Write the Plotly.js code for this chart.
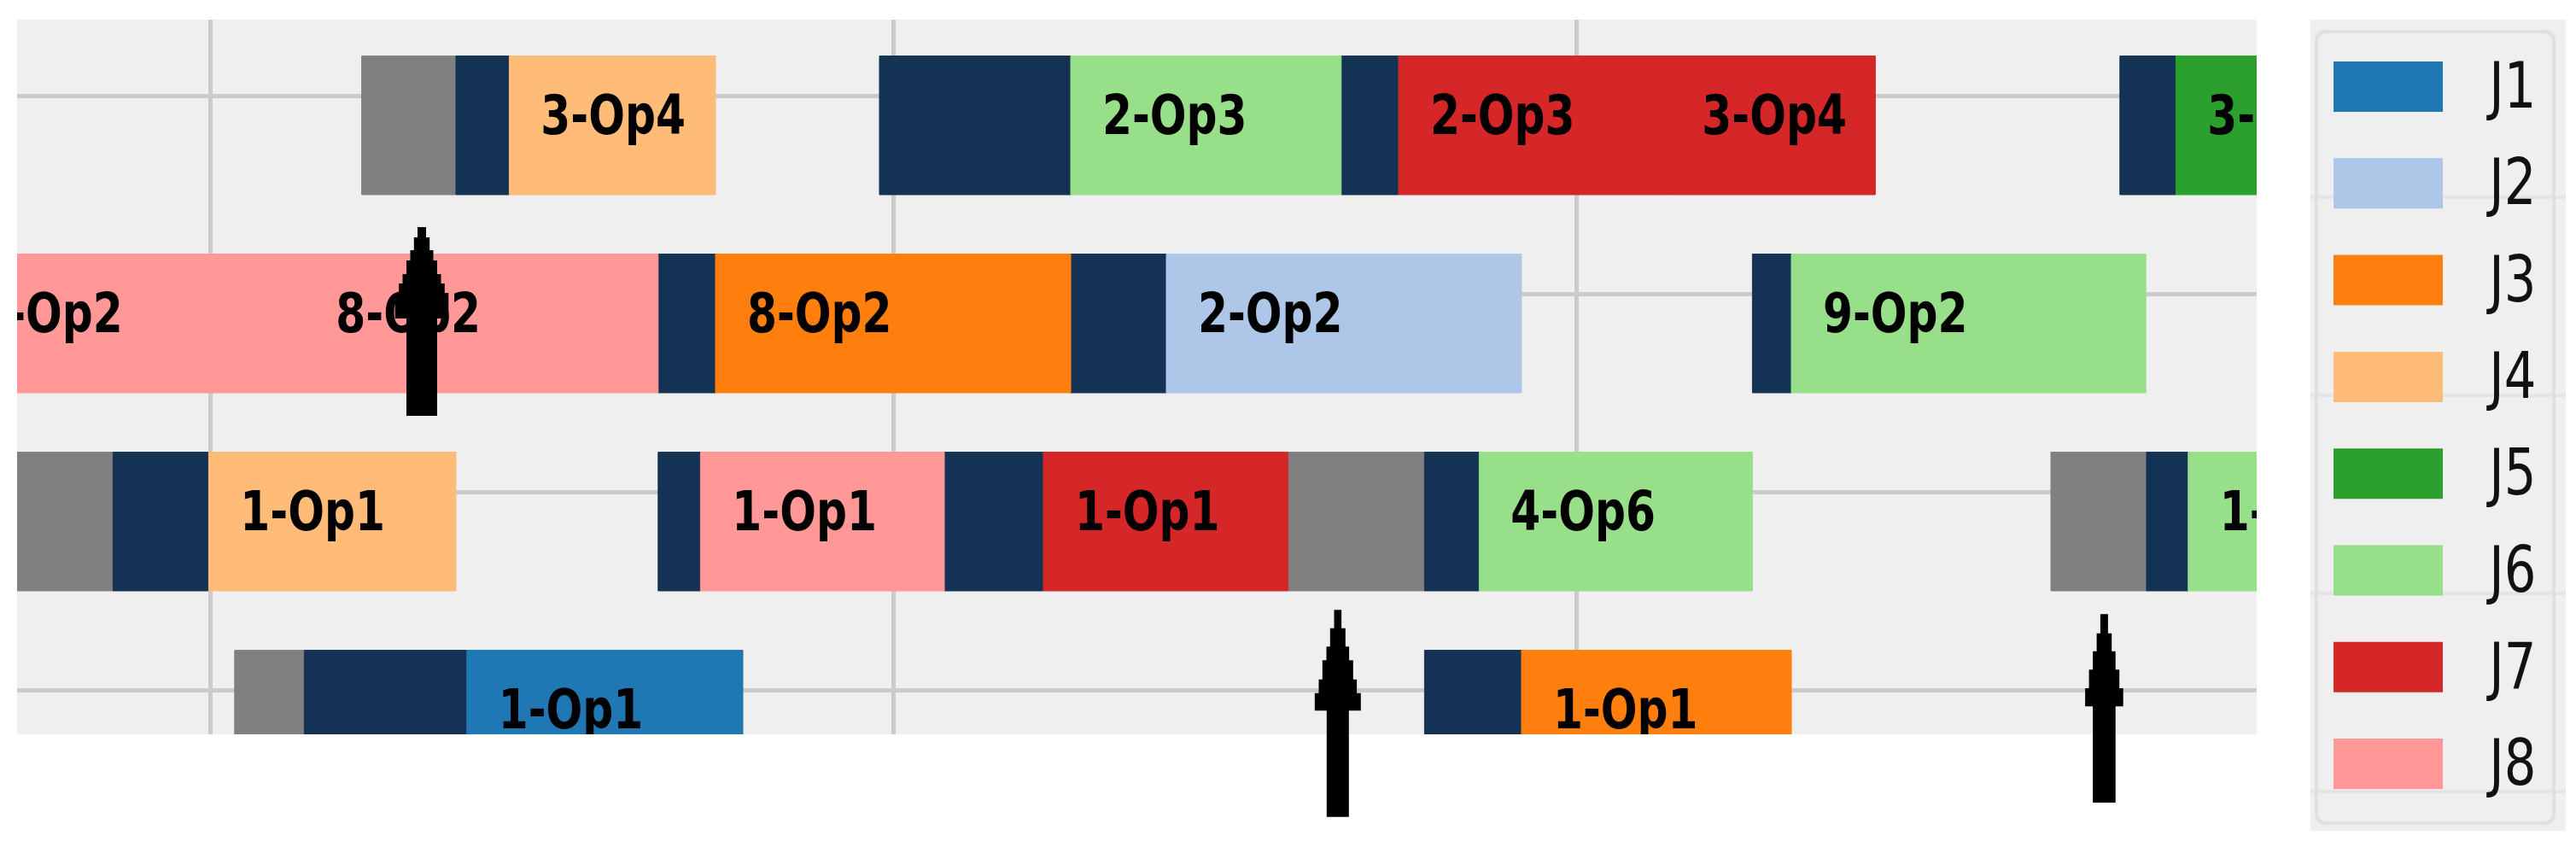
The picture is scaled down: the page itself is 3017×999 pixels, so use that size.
<!DOCTYPE html>
<html>
<head>
<meta charset="utf-8">
<script src="https://cdn.plot.ly/plotly-3.0.1.min.js"></script>
<style>
html,body{margin:0;padding:0;background:#ffffff;overflow:hidden}
#chart{width:3017px;height:999px}
</style>
</head>
<body>
<div id="chart"></div>
<script>
// ---------------- data ----------------
const jobs = ['J1','J2','J3','J4','J5','J6','J7','J8'];
const jobColors = ['#1f77b4','#aec7e8','#ff7f0e','#ffbb78','#2ca02c','#98df8a','#d62728','#ff9896'];
const rows = [1, 2, 3, 4];

// processing operations (coloured by job)
const opRow   = [4, 4, 4, 4, 4,   3, 3, 3, 3, 3,   2, 2, 2, 2, 2,   1, 1];
const opJob   = ['J4','J6','J7','J7','J5', 'J8','J8','J3','J2','J6', 'J4','J8','J7','J6','J6', 'J1','J3'];
const opStart = [71.9, 113.0, 137.0, 156.9, 193.9,  30.7, 56.9, 87.0, 120.0, 165.75,  49.9, 85.9, 111.0, 142.9, 194.8,  68.8, 146.0];
const opEnd   = [87.0, 132.8, 156.9, 171.9, 205.0,  56.9, 82.8, 113.0, 146.0, 191.7,  68.0, 103.75, 128.9, 162.9, 210.0,  89.0, 165.75];
const opLabel = ['3-Op4','2-Op3','2-Op3','3-Op4','3-Op5', '7-Op2','8-Op2','8-Op2','2-Op2','9-Op2', '1-Op1','1-Op1','1-Op1','4-Op6','1-Op7', '1-Op1','1-Op1'];

// setup periods (navy)
const setupRow   = [4, 4, 4, 4,   3, 3, 3,   2, 2, 2, 2, 2,   1, 1];
const setupStart = [68.0, 99.0, 132.8, 189.8,  82.8, 113.0, 162.9,  42.9, 82.8, 103.75, 138.9, 191.75,  56.9, 138.9];
const setupEnd   = [71.9, 113.0, 137.0, 193.9,  87.0, 120.0, 165.75,  49.9, 85.9, 111.0, 142.9, 194.8,  68.8, 146.0];

// idle / breakdown periods (gray)
const idleRow   = [4,  2, 2, 2,  1];
const idleStart = [61.1,  30.0, 128.9, 184.75,  51.8];
const idleEnd   = [68.0,  42.9, 138.9, 191.75,  56.9];

// event arrows (time positions)
const arrowX = [65.5, 132.55, 188.65];

// ---------------- layout geometry / styles ----------------
const W = 3017, H = 999, ML = 20, MR = 374, MT = 23, MB = 139;
const PW = W - ML - MR, PH = H - MT - MB;
const X_RANGE = [35.875, 199.8125];
const Y_RANGE = [0.7759, 4.3836];
const UPX = (X_RANGE[1] - X_RANGE[0]) / PW;   // data units per pixel
const PX = px => (px - ML) / PW;                // pixel -> paper x
const PY = py => (H - MB - py) / PH;            // pixel -> paper y
const NAVY = '#133254', GRAY = '#808080', BG = '#efefef';
const LABEL_DX = 2.31, LABEL_DY = -0.127;

function barTrace(name, color, ys, starts, ends) {
  return {
    type: 'bar', orientation: 'h', name: name,
    y: ys, base: starts, x: ends.map((e, i) => e - starts[i]),
    width: 0.7, offset: -0.5,
    marker: {color: color, line: {width: 1, color: color}},
    showlegend: false, hoverinfo: 'skip', textposition: 'none'
  };
}

const traces = [];
traces.push(barTrace('idle', GRAY, idleRow, idleStart, idleEnd));
traces.push(barTrace('setup', NAVY, setupRow, setupStart, setupEnd));
jobs.forEach((j, k) => {
  const idx = opJob.map((v, i) => v === j ? i : -1).filter(i => i >= 0);
  if (!idx.length) return;
  traces.push(barTrace(j, jobColors[k], idx.map(i => opRow[i]), idx.map(i => opStart[i]), idx.map(i => opEnd[i])));
});
traces.push({
  type: 'scatter', mode: 'text',
  x: opStart.map(s => s + LABEL_DX), y: opRow.map(r => r + LABEL_DY),
  text: opLabel, textposition: 'middle right', cliponaxis: true,
  textfont: {family: 'DejaVu Sans', size: 64, color: '#000000', weight: 'bold'},
  showlegend: false, hoverinfo: 'skip'
});

// ---------------- arrows ----------------
const arrowGeom = [
  {steps: [[266,5],[278,9.2],[293,13.5],[305,18],[321,22.5],[332,26.8],[343,31.3]], base: 373, shaft: 18, bottom: 487},
  {steps: [[714.3,4.3],[735.7,9],[757.3,13.3],[773.3,18],[795.7,22.3],[811.7,27]], base: 832.3, shaft: 13, bottom: 956.7},
  {steps: [[719.3,4.5],[741.7,8.8],[762.7,13.3],[784.3,17.8],[806,22.3]], base: 827.3, shaft: 13.3, bottom: 940}
];
function arrowPath(cx, g) {
  const pts = [];
  g.steps.forEach((s, i) => {
    const yb = i < g.steps.length - 1 ? g.steps[i + 1][0] : g.base;
    pts.push([s[1], s[0]]); pts.push([s[1], yb]);
  });
  pts.push([g.shaft, g.base]); pts.push([g.shaft, g.bottom]);
  const left = pts.slice().reverse().map(p => [-p[0], p[1]]);
  const all = pts.concat(left);
  return 'M' + all.map(p => (cx + p[0] * UPX).toFixed(4) + ',' + PY(p[1]).toFixed(5)).join('L') + 'Z';
}
const shapes = [];
arrowX.forEach((ax, i) => {
  shapes.push({type: 'path', xref: 'x', yref: 'paper', path: arrowPath(ax, arrowGeom[i]),
    fillcolor: '#000000', line: {width: 0}, layer: 'above'});
});

// ---------------- legend (drawn) ----------------
function roundRect(x0, y0, x1, y1, r) {
  const p = (x, y) => PX(x).toFixed(5) + ',' + PY(y).toFixed(5);
  return 'M' + p(x0 + r, y0) + 'L' + p(x1 - r, y0) + 'Q' + p(x1, y0) + ' ' + p(x1, y0 + r) +
    'L' + p(x1, y1 - r) + 'Q' + p(x1, y1) + ' ' + p(x1 - r, y1) +
    'L' + p(x0 + r, y1) + 'Q' + p(x0, y1) + ' ' + p(x0, y1 - r) +
    'L' + p(x0, y0 + r) + 'Q' + p(x0, y0) + ' ' + p(x0 + r, y0) + 'Z';
}
shapes.push({type: 'rect', xref: 'paper', yref: 'paper', x0: PX(2706), x1: PX(3005), y0: PY(973), y1: PY(23),
  fillcolor: BG, line: {width: 0}, layer: 'above'});
[231, 463, 695, 927].forEach(py => shapes.push({type: 'line', xref: 'paper', yref: 'paper',
  x0: PX(2706), x1: PX(3005), y0: PY(py), y1: PY(py), line: {color: '#e4e4e4', width: 4}, layer: 'above'}));
shapes.push({type: 'path', xref: 'paper', yref: 'paper', path: roundRect(2713, 37, 2991, 964, 12),
  line: {color: '#e0e0e0', width: 4}, layer: 'above'});
const annotations = [];
jobs.forEach((j, k) => {
  const top = 72 + 113.3 * k;
  shapes.push({type: 'rect', xref: 'paper', yref: 'paper', x0: PX(2733), x1: PX(2861), y0: PY(top + 59), y1: PY(top),
    fillcolor: jobColors[k], line: {width: 0}, layer: 'above'});
  annotations.push({xref: 'paper', yref: 'paper', x: PX(2910), y: PY(top + 28), xanchor: 'left', yanchor: 'middle',
    text: j, showarrow: false, font: {family: 'DejaVu Sans', size: 74, color: '#111111'}});
});

const layout = {
  width: W, height: H,
  margin: {l: ML, r: MR, t: MT, b: MB, pad: 0},
  paper_bgcolor: '#ffffff', plot_bgcolor: BG,
  barmode: 'overlay', showlegend: false,
  xaxis: {range: X_RANGE, tick0: 0, dtick: 50, showgrid: true, gridcolor: '#cbcbcb', gridwidth: 5,
    showticklabels: false, ticks: '', zeroline: false, showline: false, fixedrange: true},
  yaxis: {range: Y_RANGE, tick0: 0, dtick: 1, showgrid: true, gridcolor: '#cbcbcb', gridwidth: 5,
    showticklabels: false, ticks: '', zeroline: false, showline: false, fixedrange: true},
  shapes: shapes, annotations: annotations
};

function squeeze(nodes, s) {
  nodes.forEach(n => {
    const b = n.getBBox();
    const t = n.getAttribute('transform') || '';
    n.setAttribute('transform', (t + ' translate(' + b.x + ',0) scale(' + s + ',1) translate(' + (-b.x) + ',0)').trim());
  });
}

Plotly.newPlot('chart', traces, layout, {displayModeBar: false, staticPlot: true}).then(gd => {
  squeeze(gd.querySelectorAll('.scatterlayer .textpoint text'), 0.786);
  squeeze(gd.querySelectorAll('.annotation-text'), 0.8);
});
</script>
</body>
</html>
